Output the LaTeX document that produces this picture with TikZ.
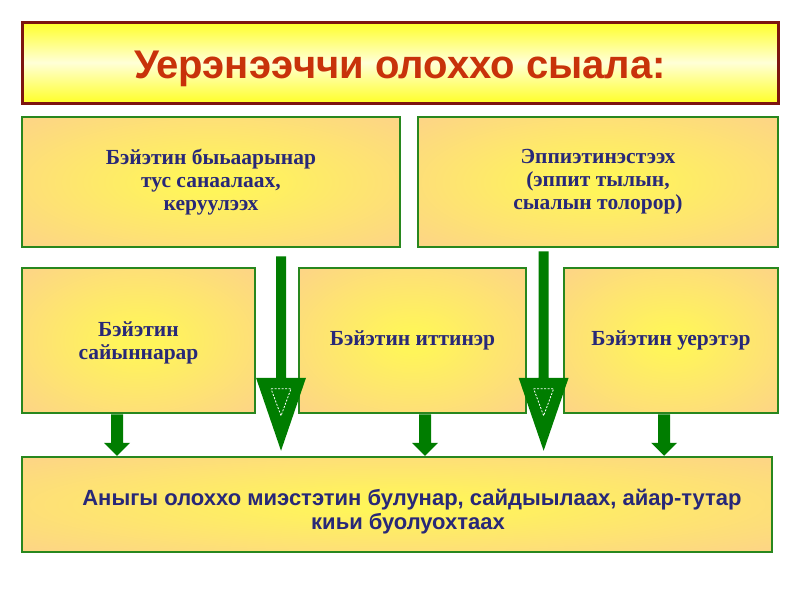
\documentclass[tikz,border=0pt]{standalone}
\usepackage{fontspec}
\setmainfont{Liberation Serif}
\newfontfamily\arialfont{Liberation Sans}
\usetikzlibrary{calc}
\definecolor{boxgreen}{RGB}{40,135,30}
\definecolor{arrgreen}{RGB}{0,125,0}
\definecolor{boxin}{RGB}{255,245,90}
\definecolor{boxout}{RGB}{252,202,148}
\definecolor{titleborder}{RGB}{125,20,15}
\definecolor{titletext}{RGB}{200,50,10}
\definecolor{titleyellow}{RGB}{255,255,40}
\definecolor{titlepale}{RGB}{255,255,215}
\definecolor{navy}{RGB}{40,40,120}
\pgfdeclareradialshading{boxshade}{\pgfpoint{0bp}{0bp}}{color(0bp)=(boxin); color(4bp)=(boxin); color(45bp)=(boxout); color(100bp)=(boxout)}
\begin{document}
\begin{tikzpicture}[x=1pt,y=-1pt,
  box/.style={draw=boxgreen, line width=2.5pt, shading=boxshade,
    inner sep=0pt, align=center, text=navy},
  serifbox/.style={box, font=\bfseries\fontsize{21.5}{23}\selectfont},
  bigarrow/.style={fill=arrgreen},
  smallarrow/.style={fill=arrgreen},
  innertri/.style={draw=white, line width=0.8pt, dash pattern=on 2pt off 1.5pt}
]
\useasboundingbox (0,0) rectangle (800,600);
\fill[white] (0,0) rectangle (800,600);

% title
\node[draw=titleborder, line width=3pt, top color=titleyellow, bottom color=titleyellow, middle color=titlepale,
  minimum width=756pt, minimum height=81pt, inner sep=0pt, text=titletext,
  font=\arialfont\bfseries\fontsize{40}{46}\selectfont] (title) at (400,62.5)
  {\raisebox{-6pt}[\height][\depth]{Уерэнээччи олоххо сыала:}};

% upper boxes
\node[serifbox, minimum width=378pt, minimum height=130pt] (b1) at (211,182)
  {Бэйэтин быьаарынар\\тус санаалаах,\\керуулээх};
\node[serifbox, minimum width=360pt, minimum height=130pt] (b2) at (598,182)
  {Эппиэтинэстээх\\(эппит тылын,\\сыалын толорор)};

% middle boxes
\node[serifbox, minimum width=233pt, minimum height=145pt] (b3) at (138.5,340.5)
  {\raisebox{-2pt}[\height][\depth]{Бэйэтин}\\\raisebox{-2pt}[\height][\depth]{сайыннарар}};
\node[serifbox, minimum width=227pt, minimum height=145pt] (b4) at (412.5,340.5)
  {Бэйэтин иттинэр};
\node[serifbox, minimum width=214pt, minimum height=145pt] (b5) at (671,340.5)
  {Бэйэтин уерэтэр};

% bottom box
\node[box, minimum width=750pt, minimum height=95pt,
  font=\arialfont\bfseries\fontsize{22}{24}\selectfont] (b6) at (397,504.5)
  {\hspace*{30pt}\raisebox{-7pt}[\height][\depth]{Аныгы олоххо миэстэтин булунар, сайдыылаах, айар-тутар}\\\hspace*{22pt}\raisebox{-7pt}[\height][\depth]{киьи буолуохтаах}};

% big arrows
\coordinate (a1s) at ($(b1.south west)!0.684!(b1.south east)+(0,8)$);
\coordinate (a1e) at ($(a1s |- b6.north)+(0,-5)$);
\coordinate (a2s) at ($(b2.south west)!0.35!(b2.south east)+(0,3)$);
\coordinate (a2e) at ($(a2s |- b6.north)+(0,-5)$);
\foreach \s/\e in {a1s/a1e, a2s/a2e}{
  \fill[bigarrow] ($(\s)+(-5,0)$) -- ($(\s)+(5,0)$) -- ($(\e)+(5,-73)$) -- ($(\e)+(25,-73)$)
     -- (\e) -- ($(\e)+(-25,-73)$) -- ($(\e)+(-5,-73)$) -- cycle;
  \draw[innertri] ($(\e)+(-10,-62)$) -- ($(\e)+(10,-62)$) -- ($(\e)+(0,-35)$) -- cycle;
}

% small arrows
\coordinate (s1s) at (117,0 |- b3.south);
\coordinate (s2s) at (425,0 |- b4.south);
\coordinate (s3s) at (664,0 |- b5.south);
\foreach \s in {s1s,s2s,s3s}{
  \coordinate (\s e) at (\s |- b6.north);
  \fill[smallarrow] ($(\s)+(-6,0)$) -- ($(\s)+(6,0)$) -- ($(\s e)+(6,-13)$) -- ($(\s e)+(13,-13)$)
     -- (\s e) -- ($(\s e)+(-13,-13)$) -- ($(\s e)+(-6,-13)$) -- cycle;
}
\end{tikzpicture}
\end{document}
